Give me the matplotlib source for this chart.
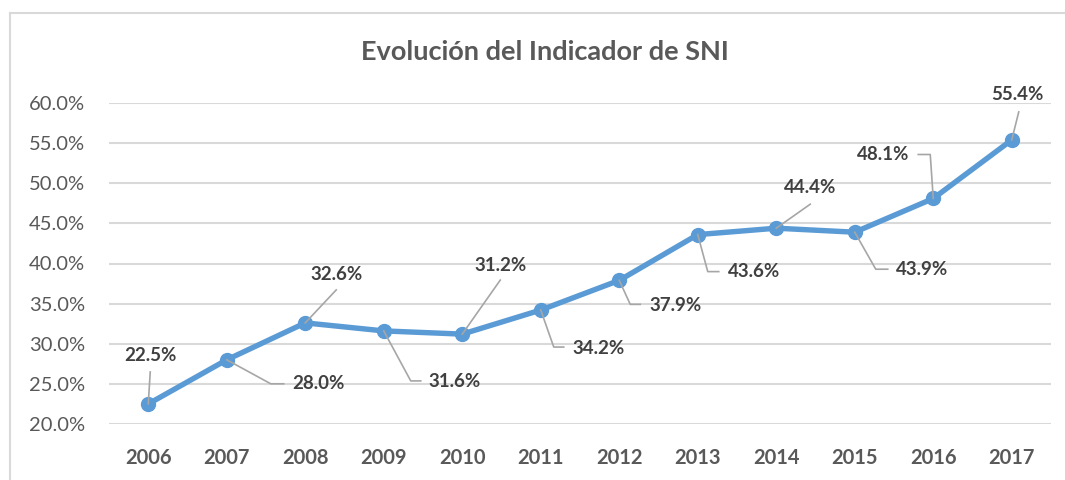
import matplotlib
matplotlib.use("Agg")
import matplotlib.pyplot as plt
from matplotlib.lines import Line2D
from matplotlib.transforms import IdentityTransform
import numpy as np

years = ["2006", "2007", "2008", "2009", "2010", "2011", "2012", "2013", "2014", "2015", "2016", "2017"]
values = [22.5, 28.0, 32.6, 31.6, 31.2, 34.2, 37.9, 43.6, 44.4, 43.9, 48.1, 55.4]
title = "Evolución del Indicador de SNI"
yticks = [20, 25, 30, 35, 40, 45, 50, 55, 60]

# label placement: text centre offset (px, y up) and leader-line vertices (px offsets from point)
label_offsets = [(2, 48), (92, -24), (31, 48), (71, -51), (38, 69), (58, -38),
                 (56, -25), (56, -37), (34, 41), (67, -37), (-50, 44), (6, 45)]
leaders = [
    [(2, 32), (0, 0)],
    [(0, 0), (44, -24), (57, -24)],
    [(31, 33), (0, 0)],
    [(0, 0), (27, -50), (37, -50)],
    [(38, 54), (0, 0)],
    [(0, 0), (13, -37), (23, -37)],
    [(0, 0), (11, -24), (21, -24)],
    [(0, 0), (10, -37), (21, -37)],
    [(34, 24), (0, 0)],
    [(0, 0), (21, -37), (33, -37)],
    [(-15, 44), (-3, 44), (0, 0)],
    [(7, 28), (0, 0)],
]

FONT = "Lato"
W, H = 1065, 480
fig = plt.figure(figsize=(W / 100, H / 100), dpi=100)
fig.patch.set_facecolor("white")

ax = fig.add_axes([109 / W, 1 - 424 / H, (1051 - 109) / W, (424 - 103) / H])
x = np.arange(len(years))
ax.plot(x, values, color="#5B9BD5", lw=3.9, marker="o", ms=10,
        markerfacecolor="#5B9BD5", markeredgecolor="#5B9BD5", zorder=3,
        solid_capstyle="round", solid_joinstyle="round")
ax.set_xlim(-0.5, len(years) - 0.5)
ax.set_ylim(20, 60)
ax.set_yticks(yticks)
ax.set_yticklabels([f"{v:.1f}%" for v in yticks])
ax.set_xticks(x)
ax.set_xticklabels(years)
ax.grid(axis="y", color="#D9D9D9", lw=1.5, zorder=0)
ax.set_axisbelow(True)
for s in ax.spines.values():
    s.set_visible(False)
ax.tick_params(axis="both", length=0)
ax.tick_params(axis="y", pad=17, labelsize=14.5, labelcolor="#595959")
ax.tick_params(axis="x", pad=17, labelsize=14.5, labelcolor="#595959")
for t in ax.get_yticklabels():
    t.set_fontfamily(FONT)
for t in ax.get_xticklabels():
    t.set_fontfamily(FONT)
    t.set_fontweight("bold")

fig.text(544.5 / W, 1 - 52 / H, title, ha="center", va="center", fontsize=19.5,
         fontweight="bold", color="#595959", family=FONT)

# border of chart area
fig.add_artist(Line2D([10 / W, 10 / W], [0, 1 - 13 / H], transform=fig.transFigure, color="#D9D9D9", lw=1.5))
fig.add_artist(Line2D([10 / W, 1], [1 - 13 / H, 1 - 13 / H], transform=fig.transFigure, color="#D9D9D9", lw=1.5))

fig.canvas.draw()
for i, v in enumerate(values):
    px, py = ax.transData.transform((i, v))
    dx, dy = label_offsets[i]
    ax.annotate(f"{v:.1f}%", xy=(px + dx, py + dy), xycoords="figure pixels",
                ha="center", va="center", fontsize=13.5, fontweight="bold",
                color="#404040", family=FONT, zorder=5)
    vx = [px + a for a, b in leaders[i]]
    vy = [py + b for a, b in leaders[i]]
    fig.add_artist(Line2D(vx, vy, transform=IdentityTransform(), color="#A6A6A6", lw=1.2, zorder=4))

fig.savefig("out.png", dpi=100)
